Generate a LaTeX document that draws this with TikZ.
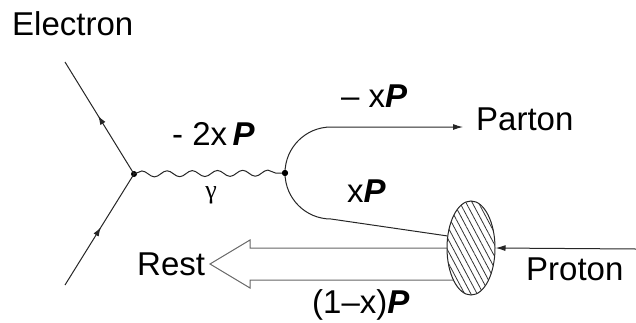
\documentclass[tikz,border=0pt]{standalone}
\usepackage{fontspec}
\setmainfont{Liberation Sans}
\newfontfamily\serifgreek{Liberation Serif}
\usetikzlibrary{arrows.meta,decorations.pathmorphing,decorations.markings,shapes.geometric,patterns.meta}
\newcommand{\Pb}{\textbf{\textit{P}}}

\begin{document}
\begin{tikzpicture}[x=1pt,y=-1pt]
\tikzstyle{every node}+=[inner sep=0pt, font=\fontsize{33}{36}\selectfont]
\tikzstyle{line}=[line width=1pt, black!85]
\tikzstyle{fermion}=[line, decoration={markings, mark=at position 0.52 with {\arrow{Latex[length=9pt,width=6pt]}}}, postaction={decorate}]
\tikzstyle{photon}=[line, decorate, decoration={snake, amplitude=3pt, segment length=25.2pt}]
\tikzstyle{vertex}=[circle, fill=black, minimum size=6pt]
\tikzstyle{hollow}=[line width=1pt, black!60]
\useasboundingbox (0,0) rectangle (636,322);
% electron side
\coordinate (ein) at (65,285);
\coordinate (eout) at (65,62);
\node [vertex] (v1) at (134,174) {};
\node [vertex] (v2) at (285,173) {};
\draw [fermion] (ein) -- (v1.center);
\draw [fermion] (v1.center) -- (eout);
\draw [photon] (v1.center) -- (v2.center);
% rest of the proton
\node [anchor=base west] (rest) at (137,275) {Rest};
\coordinate (tip) at (210,264);
\draw [hollow] (471,248) -- (250,248) -- (250,240) -- (tip) -- (250,288) -- (250,280) -- (471,280);
% proton blob
\node [ellipse, draw, line width=1pt, black!85, minimum width=48pt, minimum height=94pt, fill=white,
  postaction={pattern={Lines[angle=-62,distance=5.5pt,line width=0.8pt]}, pattern color=black!80}] (blob) at (471,248) {};
\coordinate (pin) at (636,249);
\draw [line, -{Latex[length=10pt,width=6pt]}] (pin) -- (blob.east);
% parton lines
\coordinate (ptip) at (463,127);
\draw [line, -{Latex[length=10pt,width=6pt]}] (v2.center) arc[start angle=180, end angle=270, radius=46] -- (ptip);
\draw [line] (v2.center) arc[start angle=180, end angle=90, radius=46] -- (blob.153);
\node [vertex] at (v2) {};
% labels
\node [anchor=base west] (electron) at (12,35) {Electron};
\node [anchor=base west] (q) at (172,145) {- 2x\,\Pb};
\node [anchor=base, font=\fontsize{26}{28}\serifgreek] (gamma) at (211,198) {γ};
\node [anchor=base west] (mxp) at (341,107) {– x\Pb};
\node [anchor=base west] (parton) at (476,130) {Parton};
\node [anchor=base west] (xp) at (347,202) {x\Pb};
\node [anchor=base west] (proton) at (526,280) {Proton};
\node [anchor=base west] (rp) at (312,313) {(1–x)\Pb};
\end{tikzpicture}
\end{document}
